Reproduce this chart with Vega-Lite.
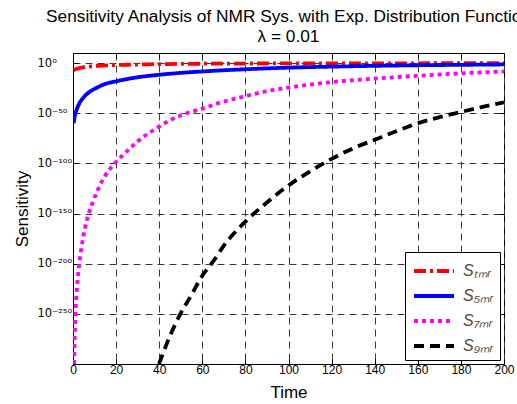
{
  "$schema": "https://vega.github.io/schema/vega-lite/v6.json",
  "width": 431,
  "height": 311,
  "autosize": "none",
  "padding": {"left": 73, "top": 53, "right": 13, "bottom": 40},
  "background": "white",
  "title": {
    "text": ["Sensitivity Analysis of NMR Sys. with Exp. Distribution Function", "λ = 0.01"],
    "font": "Liberation Sans",
    "fontSize": 17.3,
    "fontWeight": "normal",
    "lineHeight": 20,
    "anchor": "middle",
    "offset": 7,
    "color": "black"
  },
  "config": {
    "view": {"stroke": "black", "strokeWidth": 1},
    "font": "Liberation Sans"
  },
  "data": {
    "values": [
      {"t": 0.3, "s": -7.4, "k": "TMR"}, {"t": 1, "s": -6.4, "k": "TMR"}, {"t": 2, "s": -5.6, "k": "TMR"}, {"t": 3, "s": -5, "k": "TMR"}, {"t": 5, "s": -4.2, "k": "TMR"}, {"t": 8, "s": -3.4, "k": "TMR"}, {"t": 11, "s": -2.9, "k": "TMR"}, {"t": 14, "s": -2.5, "k": "TMR"}, {"t": 20, "s": -2, "k": "TMR"}, {"t": 25, "s": -1.7, "k": "TMR"}, {"t": 30, "s": -1.5, "k": "TMR"}, {"t": 40, "s": -1.1, "k": "TMR"}, {"t": 50, "s": -0.9, "k": "TMR"}, {"t": 60, "s": -0.7, "k": "TMR"}, {"t": 80, "s": -0.5, "k": "TMR"}, {"t": 100, "s": -0.4, "k": "TMR"}, {"t": 120, "s": -0.35, "k": "TMR"}, {"t": 140, "s": -0.3, "k": "TMR"}, {"t": 160, "s": -0.25, "k": "TMR"}, {"t": 180, "s": -0.22, "k": "TMR"}, {"t": 200, "s": -0.2, "k": "TMR"},
      {"t": 0.3, "s": -60, "k": "5MR"}, {"t": 0.8, "s": -53, "k": "5MR"}, {"t": 1.6, "s": -47, "k": "5MR"}, {"t": 3, "s": -40, "k": "5MR"}, {"t": 5, "s": -34, "k": "5MR"}, {"t": 7.5, "s": -29, "k": "5MR"}, {"t": 10, "s": -25.8, "k": "5MR"}, {"t": 15, "s": -20.8, "k": "5MR"}, {"t": 20, "s": -18.2, "k": "5MR"}, {"t": 30, "s": -14.2, "k": "5MR"}, {"t": 40, "s": -11.7, "k": "5MR"}, {"t": 50, "s": -9.8, "k": "5MR"}, {"t": 60, "s": -8.4, "k": "5MR"}, {"t": 80, "s": -6.2, "k": "5MR"}, {"t": 100, "s": -4.6, "k": "5MR"}, {"t": 120, "s": -3.6, "k": "5MR"}, {"t": 140, "s": -2.8, "k": "5MR"}, {"t": 160, "s": -2.2, "k": "5MR"}, {"t": 180, "s": -1.8, "k": "5MR"}, {"t": 200, "s": -1.4, "k": "5MR"},
      {"t": 0.5, "s": -300, "k": "7MR"}, {"t": 0.8, "s": -270, "k": "7MR"}, {"t": 1.1, "s": -252, "k": "7MR"}, {"t": 1.8, "s": -225, "k": "7MR"}, {"t": 2.8, "s": -202, "k": "7MR"}, {"t": 4, "s": -183, "k": "7MR"}, {"t": 5.5, "s": -165, "k": "7MR"}, {"t": 7.3, "s": -150, "k": "7MR"}, {"t": 9.3, "s": -138, "k": "7MR"}, {"t": 12, "s": -124, "k": "7MR"}, {"t": 15, "s": -112, "k": "7MR"}, {"t": 19.4, "s": -100, "k": "7MR"}, {"t": 25, "s": -88, "k": "7MR"}, {"t": 30, "s": -78, "k": "7MR"}, {"t": 38, "s": -66, "k": "7MR"}, {"t": 45, "s": -57, "k": "7MR"}, {"t": 52.7, "s": -50, "k": "7MR"}, {"t": 60, "s": -45.5, "k": "7MR"}, {"t": 67.5, "s": -40, "k": "7MR"}, {"t": 80, "s": -33, "k": "7MR"}, {"t": 90, "s": -28, "k": "7MR"}, {"t": 100, "s": -24.5, "k": "7MR"}, {"t": 120, "s": -19, "k": "7MR"}, {"t": 140, "s": -15.5, "k": "7MR"}, {"t": 160, "s": -12.7, "k": "7MR"}, {"t": 180, "s": -10.3, "k": "7MR"}, {"t": 200, "s": -8.4, "k": "7MR"},
      {"t": 39.9, "s": -300, "k": "9MR"}, {"t": 45, "s": -272, "k": "9MR"}, {"t": 49.6, "s": -251, "k": "9MR"}, {"t": 55, "s": -231, "k": "9MR"}, {"t": 60, "s": -212, "k": "9MR"}, {"t": 65, "s": -198, "k": "9MR"}, {"t": 70, "s": -182, "k": "9MR"}, {"t": 80, "s": -158, "k": "9MR"}, {"t": 90, "s": -139, "k": "9MR"}, {"t": 100, "s": -122, "k": "9MR"}, {"t": 110, "s": -108, "k": "9MR"}, {"t": 120, "s": -95.5, "k": "9MR"}, {"t": 130, "s": -85, "k": "9MR"}, {"t": 140, "s": -76.5, "k": "9MR"}, {"t": 150, "s": -68, "k": "9MR"}, {"t": 160, "s": -60, "k": "9MR"}, {"t": 170, "s": -54, "k": "9MR"}, {"t": 180, "s": -48.8, "k": "9MR"}, {"t": 190, "s": -43.8, "k": "9MR"}, {"t": 200, "s": -39.2, "k": "9MR"}
    ]
  },
  "layer": [
    {
      "mark": {"type": "line", "strokeWidth": 3.8, "interpolate": "monotone", "clip": true},
      "encoding": {
        "x": {
          "field": "t",
          "type": "quantitative",
          "scale": {"domain": [0, 200], "nice": false},
          "axis": {
            "orient": "bottom",
            "title": "Time",
            "titleFontSize": 17,
            "titleFontWeight": "normal",
            "titleColor": "black",
            "titlePadding": 9,
            "values": [0, 20, 40, 60, 80, 100, 120, 140, 160, 180, 200],
            "labelFontSize": 12,
            "labelColor": "black",
            "labelPadding": 5,
            "labelFlush": false,
            "grid": true,
            "gridColor": "#3a3a3a",
            "gridDash": [7, 5],
            "gridWidth": 1,
            "domainColor": "black",
            "tickColor": "black",
            "tickSize": -5
          }
        },
        "y": {
          "field": "s",
          "type": "quantitative",
          "scale": {"domain": [-300, 10], "nice": false, "zero": false},
          "axis": {
            "orient": "left",
            "title": "Sensitivity",
            "titleFontSize": 17,
            "titleFontWeight": "normal",
            "titleColor": "black",
            "titlePadding": 6,
            "values": [0, -50, -100, -150, -200, -250],
            "labelExpr": "datum.value == 0 ? '10⁰' : datum.value == -50 ? '10⁻⁵⁰' : datum.value == -100 ? '10⁻¹⁰⁰' : datum.value == -150 ? '10⁻¹⁵⁰' : datum.value == -200 ? '10⁻²⁰⁰' : '10⁻²⁵⁰'",
            "labelFont": "DejaVu Sans",
            "labelFontSize": 11.5,
            "labelColor": "black",
            "labelAlign": "left",
            "labelPadding": 41,
            "grid": true,
            "gridColor": "#3a3a3a",
            "gridDash": [7, 5],
            "gridWidth": 1,
            "domainColor": "black",
            "tickColor": "black",
            "tickSize": -5
          }
        },
        "color": {
          "field": "k",
          "type": "nominal",
          "scale": {"domain": ["TMR", "5MR", "7MR", "9MR"], "range": ["#ff0000", "#0000ff", "#ff00ff", "#000000"]},
          "legend": {
            "title": null,
            "orient": "bottom-right",
            "offset": 4,
            "strokeColor": "black",
            "fillColor": "white",
            "padding": 6,
            "symbolType": "M-0.909,0H2.727",
            "symbolSize": 484,
            "symbolStrokeWidth": 3.8,
            "labelFontSize": 16,
            "labelFontStyle": "italic",
            "labelColor": "#5a4632",
            "labelExpr": "datum.value == 'TMR' ? 'Sₜₘᵣ' : datum.value == '5MR' ? 'S₅ₘᵣ' : datum.value == '7MR' ? 'S₇ₘᵣ' : 'S₉ₘᵣ'",
            "rowPadding": 4,
            "labelOffset": 26
          }
        },
        "strokeDash": {
          "field": "k",
          "type": "nominal",
          "scale": {"domain": ["TMR", "5MR", "7MR", "9MR"], "range": [[12, 4, 3, 4], [1, 0], [4, 4], [10, 6]]},
          "legend": {
            "title": null,
            "orient": "bottom-right",
            "offset": 4,
            "strokeColor": "black",
            "fillColor": "white",
            "padding": 6,
            "symbolType": "M-0.909,0H2.727",
            "symbolSize": 484,
            "symbolStrokeWidth": 3.8,
            "labelFontSize": 16,
            "labelFontStyle": "italic",
            "labelColor": "#5a4632",
            "labelExpr": "datum.value == 'TMR' ? 'Sₜₘᵣ' : datum.value == '5MR' ? 'S₅ₘᵣ' : datum.value == '7MR' ? 'S₇ₘᵣ' : 'S₉ₘᵣ'",
            "rowPadding": 4,
            "labelOffset": 26
          }
        }
      }
    },
    {
      "mark": {"type": "point", "opacity": 0},
      "encoding": {
        "x": {
          "field": "t",
          "type": "quantitative",
          "axis": {
            "orient": "top",
            "title": null,
            "labels": false,
            "grid": false,
            "domain": false,
            "values": [0, 20, 40, 60, 80, 100, 120, 140, 160, 180, 200],
            "tickColor": "black",
            "tickSize": -5
          }
        },
        "y": {
          "field": "s",
          "type": "quantitative",
          "axis": {
            "orient": "right",
            "title": null,
            "labels": false,
            "grid": false,
            "domain": false,
            "values": [0, -50, -100, -150, -200, -250],
            "tickColor": "black",
            "tickSize": -5
          }
        }
      }
    }
  ],
  "resolve": {"axis": {"x": "independent", "y": "independent"}}
}
